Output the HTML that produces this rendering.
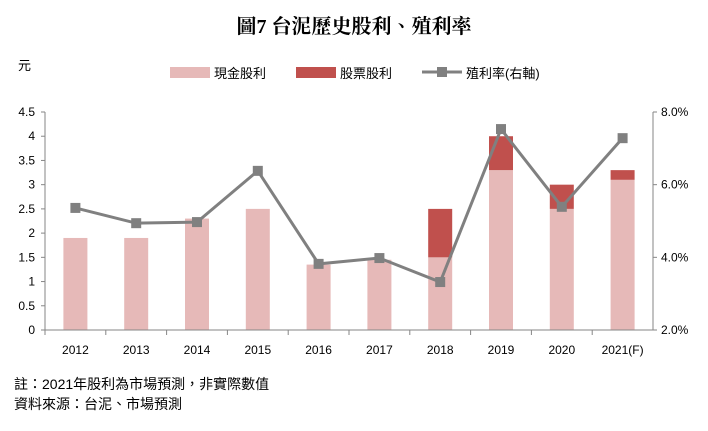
<!DOCTYPE html>
<html><head><meta charset="utf-8">
<style>
body{margin:0;background:#fff;width:708px;height:426px;overflow:hidden;font-family:"Liberation Sans","Noto Sans CJK TC",sans-serif;}
</style></head>
<body>
<svg id="chart" width="708" height="426" xmlns="http://www.w3.org/2000/svg" font-family="Liberation Sans, Noto Sans CJK TC, sans-serif">
<text x="354" y="33" text-anchor="middle" font-size="20" font-weight="bold" font-family="Liberation Serif, Noto Serif CJK TC, serif" fill="#000">圖7 台泥歷史股利、殖利率</text>
<text x="18" y="70" font-size="13">元</text>
<g font-size="13">
<rect x="170" y="67" width="40" height="11" fill="#e6b9b8"/>
<text x="214" y="78">現金股利</text>
<rect x="296" y="67" width="40" height="11" fill="#c0504d"/>
<text x="340" y="78">股票股利</text>
<line x1="422" y1="72" x2="462" y2="72" stroke="#808080" stroke-width="3"/>
<rect x="437" y="67" width="10" height="10" fill="#808080"/>
<text x="466" y="78">殖利率(右軸)</text>
</g>
<g id="plot"></g>
<text x="14" y="389" font-size="14">註：2021年股利為市場預測，非實際數值</text>
<text x="14" y="409" font-size="14">資料來源：台泥、市場預測</text>
</svg>
<script>
const categories=["2012","2013","2014","2015","2016","2017","2018","2019","2020","2021(F)"];
const cashDividend=[1.9,1.9,2.3,2.5,1.35,1.45,1.5,3.3,2.5,3.1];
const stockDividend=[0,0,0,0,0,0,1.0,0.7,0.5,0.2];
const yieldPct=[5.36,4.94,4.97,6.38,3.82,3.98,3.32,7.53,5.39,7.28];
const leftTicks=[0,0.5,1,1.5,2,2.5,3,3.5,4,4.5];
const rightTicks=[2,4,6,8];
const NS="http://www.w3.org/2000/svg";
const g=document.getElementById('plot');
const X0=45,X1=653,Y0=330,Y1=112;
const band=(X1-X0)/categories.length;
const xc=i=>X0+band*(i+0.5);
const yL=v=>Y0-(v/4.5)*(Y0-Y1);
const yR=v=>Y0-((v-2)/6)*(Y0-Y1);
function mk(t,a){const e=document.createElementNS(NS,t);for(const k in a)e.setAttribute(k,a[k]);g.appendChild(e);return e;}
let e;
leftTicks.forEach(v=>{
 e=mk('line',{x1:X0-4,x2:X0,y1:yL(v),y2:yL(v),stroke:'#868686'});
 
 e=mk('text',{x:X0-10,y:yL(v)+4,'text-anchor':'end','font-size':12});e.textContent=String(v);
 
});
rightTicks.forEach(v=>{
 e=mk('line',{x1:X1,x2:X1+4,y1:yR(v),y2:yR(v),stroke:'#868686'});
 
 e=mk('text',{x:X1+8,y:yR(v)+4,'font-size':12});e.textContent=v.toFixed(1)+'%';
 
});
categories.forEach((c,i)=>{
 const w=24,x=xc(i)-w/2;
 e=mk('rect',{x:x,y:yL(cashDividend[i]),width:w,height:Y0-yL(cashDividend[i]),fill:'#e6b9b8'});
 
 if(stockDividend[i]>0){
  const top=cashDividend[i]+stockDividend[i];
  e=mk('rect',{x:x,y:yL(top),width:w,height:yL(cashDividend[i])-yL(top),fill:'#c0504d'});
  
 }
 e=mk('text',{x:xc(i),y:Y0+24,'text-anchor':'middle','font-size':12});e.textContent=c;
 
 e=mk('line',{x1:X0+band*i,x2:X0+band*i,y1:Y0,y2:Y0+5,stroke:'#868686'});
 
});
e=mk('line',{x1:X0,x2:X0,y1:Y1,y2:Y0,stroke:'#868686'});

e=mk('line',{x1:X1,x2:X1,y1:Y1,y2:Y0,stroke:'#868686'});

e=mk('line',{x1:X0,x2:X1,y1:Y0,y2:Y0,stroke:'#868686'});

e=mk('polyline',{points:yieldPct.map((v,i)=>xc(i)+','+yR(v)).join(' '),fill:'none',stroke:'#808080','stroke-width':3});

yieldPct.forEach((v,i)=>{
 e=mk('rect',{x:xc(i)-5,y:yR(v)-5,width:10,height:10,fill:'#808080'});
 
});
</script>
</body></html>
